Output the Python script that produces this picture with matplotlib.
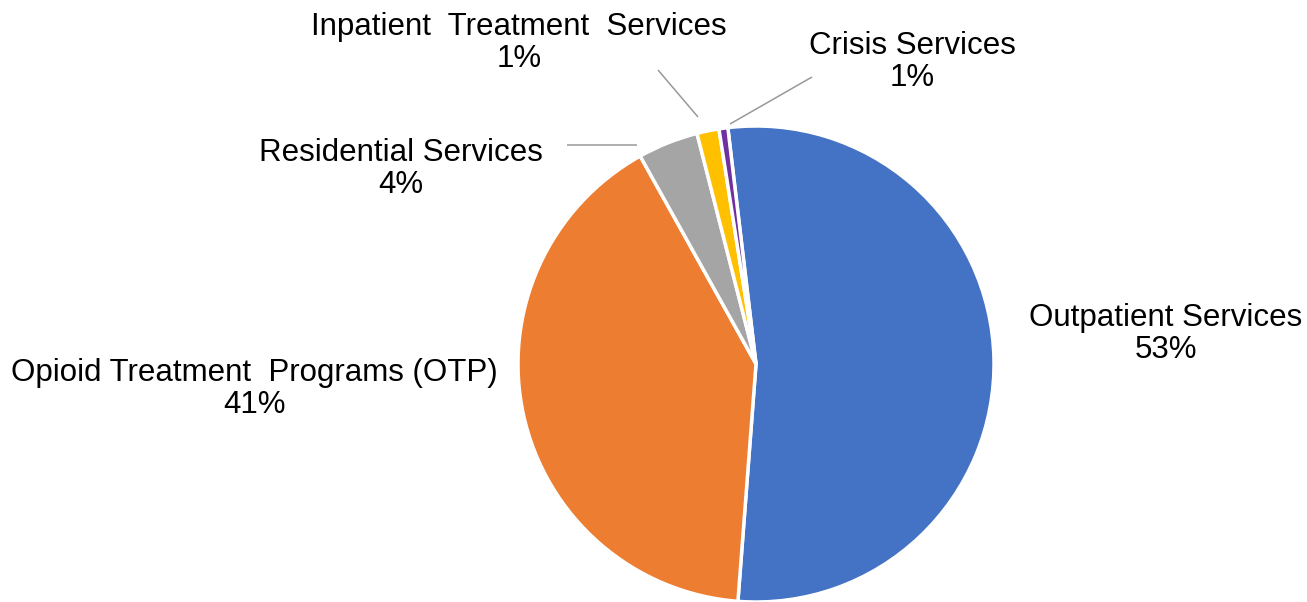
import matplotlib.pyplot as plt

# data (share of total, %)
categories = ['Outpatient Services', 'Opioid Treatment  Programs (OTP)',
              'Residential Services', 'Inpatient  Treatment  Services',
              'Crisis Services']
values = [53.1, 40.7, 4.1, 1.5, 0.6]
pct_labels = ['53%', '41%', '4%', '1%', '1%']
colors = ['#4472C4', '#ED7D31', '#A5A5A5', '#FFC000', '#7030A0']

W, H = 1307, 602
plt.rcParams['font.family'] = ['Liberation Sans', 'DejaVu Sans']

fig = plt.figure(figsize=(W / 100, H / 100), dpi=100)
ax = fig.add_axes([0, 0, 1, 1])

# pie in pixel space (y up)
cx, cy, r = 756, H - 364, 238
ax.pie(values, colors=colors, startangle=96.8, counterclock=False,
       center=(cx, cy), radius=r,
       wedgeprops=dict(edgecolor='white', linewidth=2.5))

# pie() resets limits, so set them afterwards
ax.set_xlim(0, W)
ax.set_ylim(0, H)
ax.set_aspect('equal')
ax.axis('off')

# label positions (pixel coords from top-left), leader lines
label_pos = [(1166, 334), (254, 389), (401, 169), (519, 43), (912, 62)]
leaders = {2: ((567, 145), (637, 145)),
           3: ((658, 70), (698, 117)),
           4: ((812, 77), (730, 124))}

for i, (name, pct) in enumerate(zip(categories, pct_labels)):
    x, y = label_pos[i]
    ax.text(x, H - y, f"{name}\n{pct}", ha='center', va='center',
            multialignment='center', fontsize=22.5, linespacing=1.08,
            color='#000000')
    if i in leaders:
        (x0, y0), (x1, y1) = leaders[i]
        ax.plot([x0, x1], [H - y0, H - y1], color='#999999', lw=1.1,
                solid_capstyle='butt')

fig.savefig('out.png', dpi=100)
